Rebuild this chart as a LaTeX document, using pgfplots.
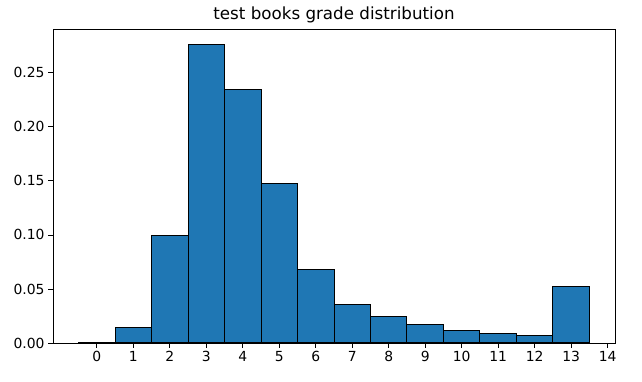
\documentclass[border=0pt]{standalone}
\usepackage{pgfplots}
\pgfplotsset{compat=1.18}
\usepackage{fontspec}
\setmainfont{DejaVu Sans}
\definecolor{mplblue}{HTML}{1F77B4}
\begin{document}
\begin{tikzpicture}
\begin{axis}[name=ax,
  scale only axis, width=562pt, height=314pt,
  xmin=-1.2, xmax=14.2, ymin=0, ymax=0.2905,
  xtick={0,1,...,14},
  ytick={0,0.05,0.10,0.15,0.20,0.25},
  xtick pos=bottom, ytick pos=left,
  yticklabel style={/pgf/number format/.cd,fixed,fixed zerofill,precision=2},
  /pgf/number format/assume math mode=true,
  tick label style={font=\fontsize{13.9}{16}\selectfont},
  tick align=outside, tick style={black, line width=0.8pt},
  major tick length=4.9pt,
  axis line style={line width=0.8pt},
  title={test books grade distribution},
  title style={font=\fontsize{16.7}{19}\selectfont, yshift=-4pt},
]
\addplot[ybar interval, fill=mplblue, draw=black, line width=1pt] coordinates {
(-0.5,0.0001) (0.5,0.0148) (1.5,0.0993) (2.5,0.2763) (3.5,0.2348) (4.5,0.1476)
(5.5,0.0683) (6.5,0.0357) (7.5,0.0243) (8.5,0.0173) (9.5,0.0117) (10.5,0.0089)
(11.5,0.0067) (12.5,0.0526) (13.5,0.0526)
};
\end{axis}
\path[use as bounding box] ([shift={(-53pt,-39pt)}]ax.south west) rectangle ([shift={(27pt,29pt)}]ax.north east);
\end{tikzpicture}
\end{document}
